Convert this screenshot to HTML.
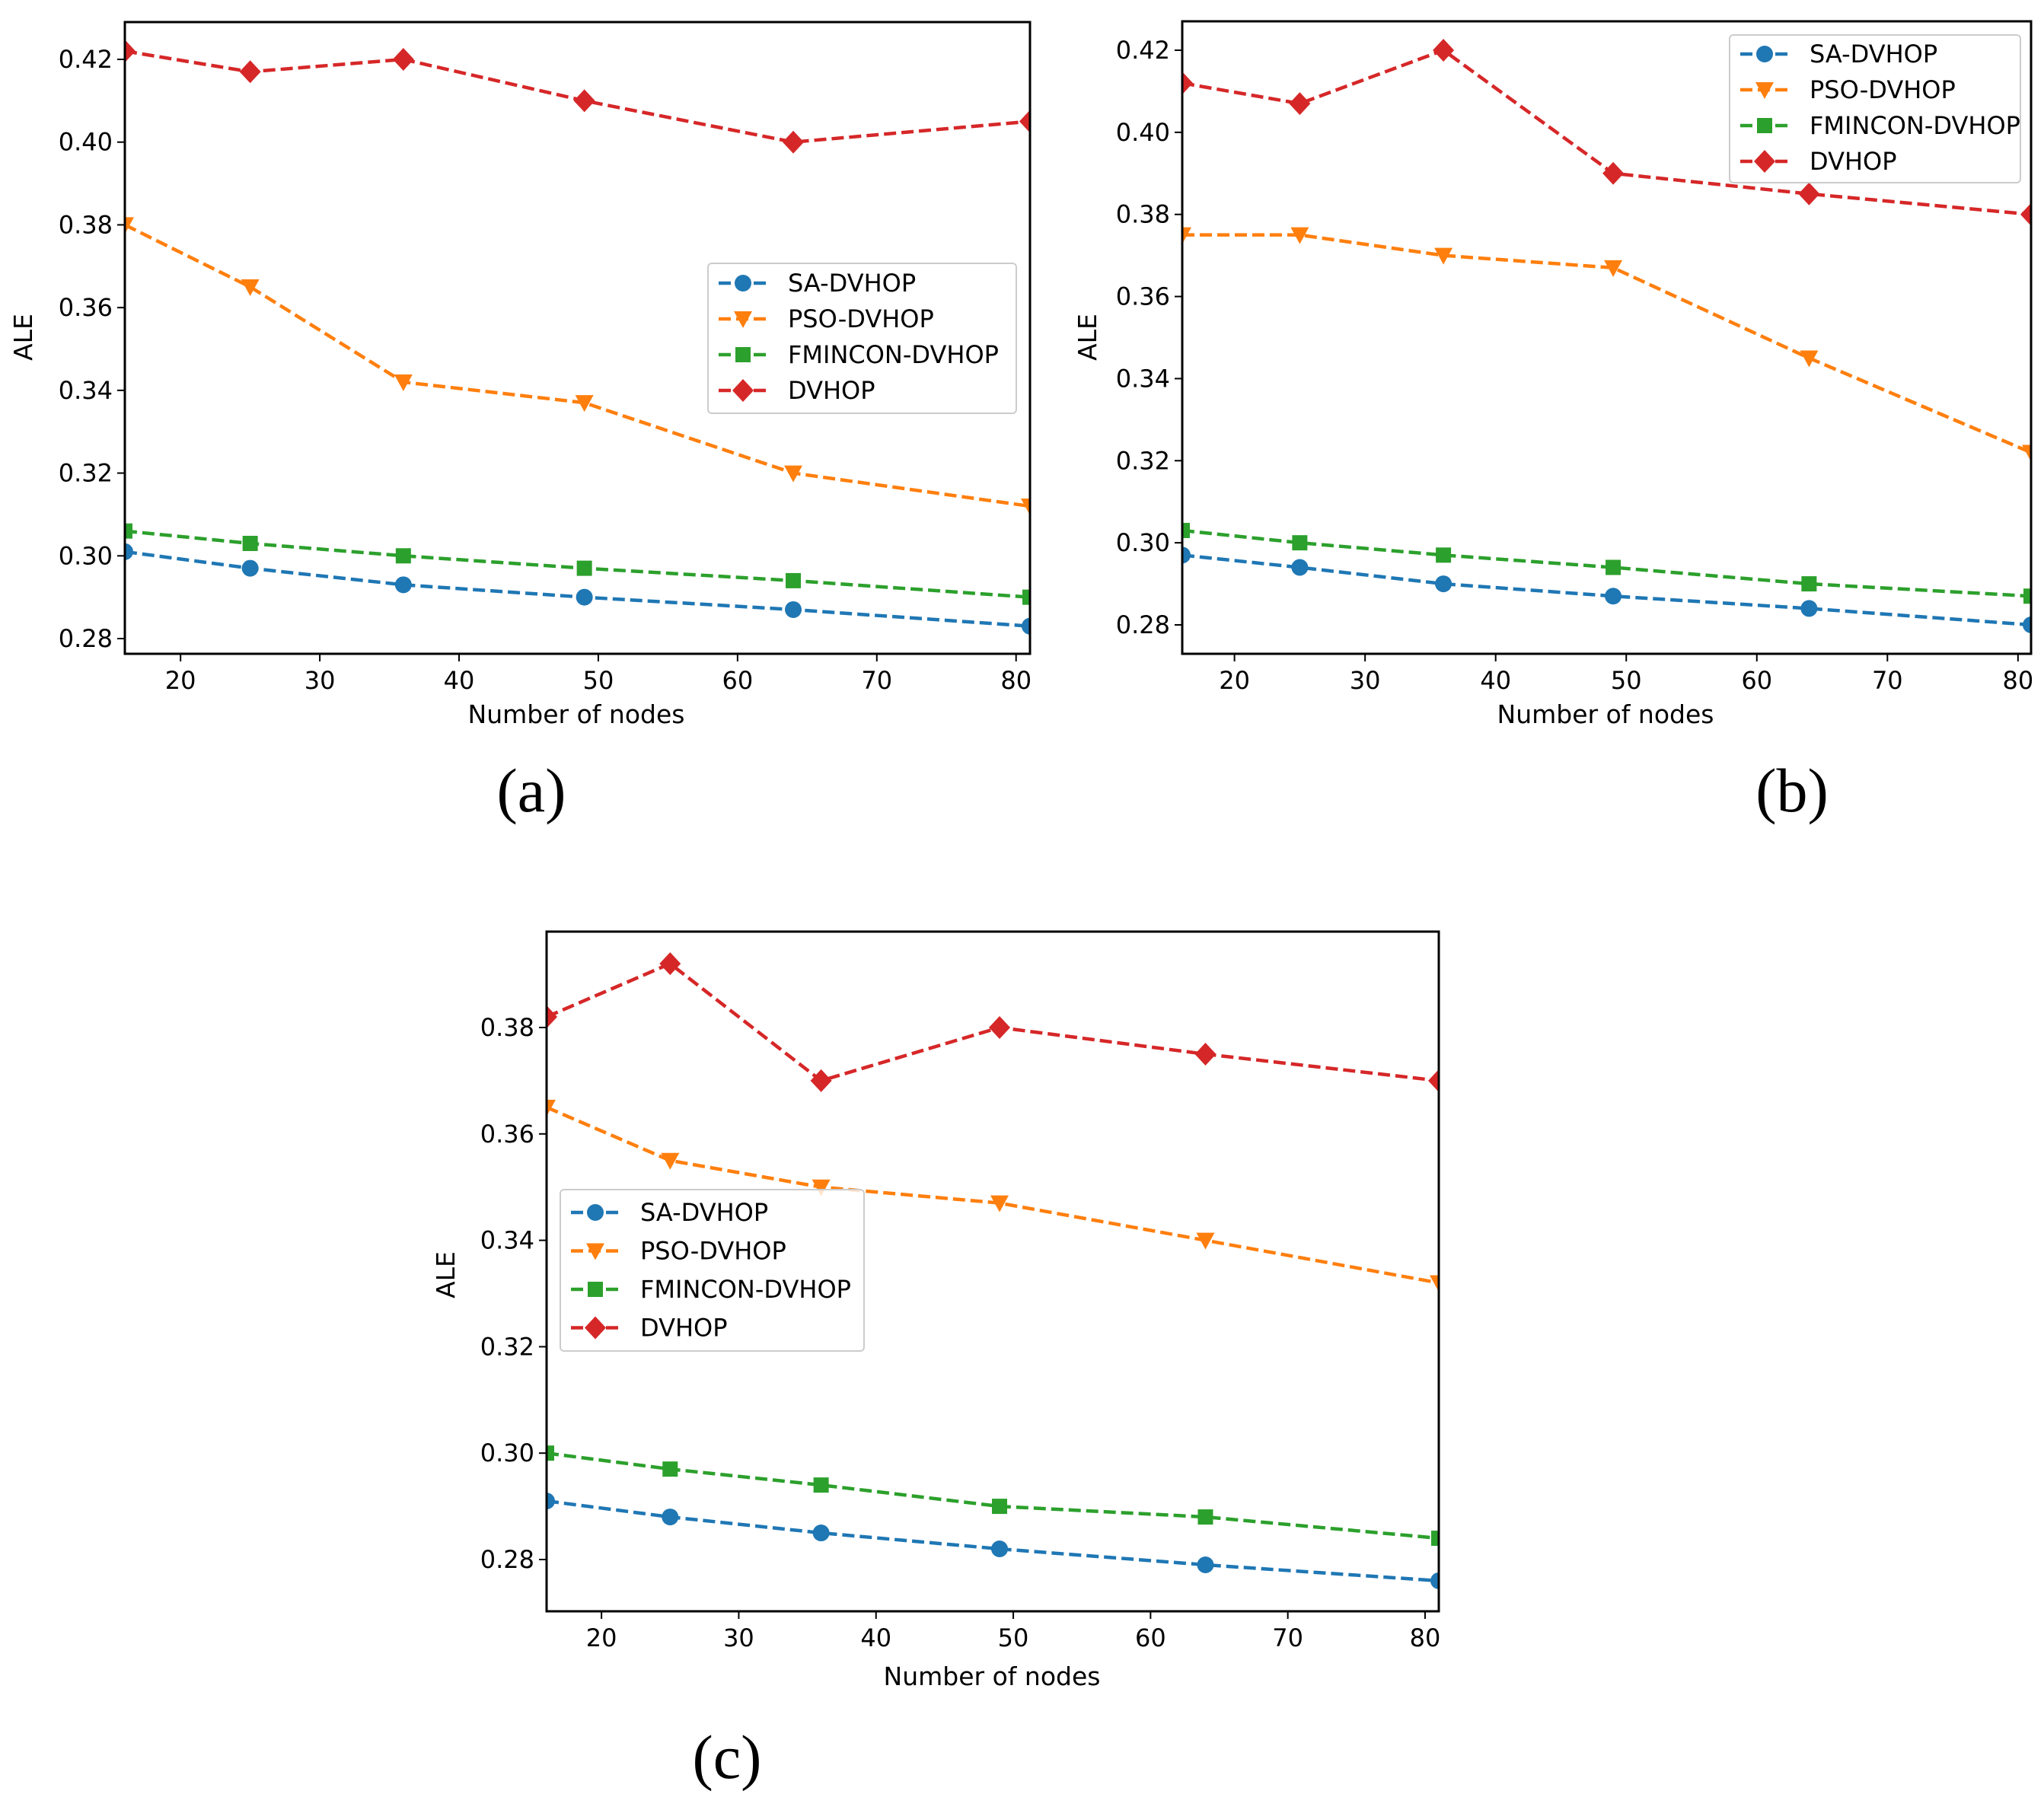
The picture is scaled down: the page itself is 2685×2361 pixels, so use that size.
<!DOCTYPE html>
<html><head><meta charset="utf-8"><style>
html,body{margin:0;padding:0;background:#fff;}
svg{display:block;font-family:"DejaVu Sans","Liberation Sans",sans-serif;}
</style></head><body>
<svg id="fig" width="2685" height="2361" viewBox="0 0 2685 2361" xmlns="http://www.w3.org/2000/svg"></svg>
<script>
const xValues = [16, 25, 36, 49, 64, 81];
const xTicks = [20, 30, 40, 50, 60, 70, 80];
const seriesNames = ["SA-DVHOP", "PSO-DVHOP", "FMINCON-DVHOP", "DVHOP"];
const aSA = [0.301, 0.297, 0.293, 0.290, 0.287, 0.283];
const aPSO = [0.380, 0.365, 0.342, 0.337, 0.320, 0.312];
const aFM = [0.306, 0.303, 0.300, 0.297, 0.294, 0.290];
const aDV = [0.422, 0.417, 0.420, 0.410, 0.400, 0.405];
const bSA = [0.297, 0.294, 0.290, 0.287, 0.284, 0.280];
const bPSO = [0.375, 0.375, 0.370, 0.367, 0.345, 0.322];
const bFM = [0.303, 0.300, 0.297, 0.294, 0.290, 0.287];
const bDV = [0.412, 0.407, 0.420, 0.390, 0.385, 0.380];
const cSA = [0.291, 0.288, 0.285, 0.282, 0.279, 0.276];
const cPSO = [0.365, 0.355, 0.350, 0.347, 0.340, 0.332];
const cFM = [0.300, 0.297, 0.294, 0.290, 0.288, 0.284];
const cDV = [0.382, 0.392, 0.370, 0.380, 0.375, 0.370];
const abYTicks = [0.28, 0.30, 0.32, 0.34, 0.36, 0.38, 0.40, 0.42];
const cYTicks = [0.28, 0.30, 0.32, 0.34, 0.36, 0.38];

const colors = ["#1f77b4", "#ff7f0e", "#2ca02c", "#d62728"];
const markers = ["circle", "tri", "square", "diamond"];
const NS = "http://www.w3.org/2000/svg";
const svg = document.getElementById("fig");
function mk(tag, attrs, parent) {
  const e = document.createElementNS(NS, tag);
  for (const k in attrs) e.setAttribute(k, attrs[k]);
  (parent || svg).appendChild(e);
  return e;
}
function marker(type, x, y, color, parent) {
  let e;
  if (type === "circle") e = mk("circle", {cx: x, cy: y, r: 11, fill: color}, parent);
  else if (type === "square") e = mk("rect", {x: x - 10, y: y - 10, width: 20, height: 20, fill: color}, parent);
  else if (type === "tri") e = mk("polygon", {points: `${x-12},${y-10} ${x+12},${y-10} ${x},${y+12}`, fill: color}, parent);
  else e = mk("polygon", {points: `${x},${y-15} ${x+14},${y} ${x},${y+15} ${x-14},${y}`, fill: color}, parent);
  return e;
}

function panel(id, box, y0, y1, yTicks, series, legend, xlab, ylab, cap) {
  const g = mk("g", {});
  
  
  const xs = v => box.l + (v - 16) / (81 - 16) * (box.r - box.l);
  const ys = v => y0.p + (v - y0.v) / (y1.v - y0.v) * (y1.p - y0.p);
  const clipId = "clip" + id;
  const cp = mk("clipPath", {id: clipId}, g);
  mk("rect", {x: box.l, y: box.t, width: box.r - box.l, height: box.b - box.t}, cp);
  xTicks.forEach(t => {
    const x = xs(t);
    const tl = mk("line", {x1: x, x2: x, y1: box.b, y2: box.b + 10, stroke: "#000", "stroke-width": 2}, g);
    
    
    const tx = mk("text", {x: x, y: box.b + 46, "font-size": 32, "text-anchor": "middle", fill: "#000"}, g);
    tx.textContent = t;
    
    
  });
  yTicks.forEach(t => {
    const y = ys(t);
    const tl = mk("line", {x1: box.l - 10, x2: box.l, y1: y, y2: y, stroke: "#000", "stroke-width": 2}, g);
    
    
    const tx = mk("text", {x: box.l - 16, y: y + 11, "font-size": 32, "text-anchor": "end", fill: "#000"}, g);
    tx.textContent = t.toFixed(2);
    
    
  });
  const sg = mk("g", {"clip-path": `url(#${clipId})`}, g);
  series.forEach((vals, i) => {
    const pts = vals.map((v, j) => `${xs(xValues[j])},${ys(v)}`).join(" ");
    const pl = mk("polyline", {points: pts, fill: "none", stroke: colors[i], "stroke-width": 4.5, "stroke-dasharray": "16,7"}, sg);
    
    
    vals.forEach((v, j) => {
      const m = marker(markers[i], xs(xValues[j]), ys(v), colors[i], sg);
      
      
    });
  });
  const frame = mk("rect", {x: box.l, y: box.t, width: box.r - box.l, height: box.b - box.t, fill: "none", stroke: "#000", "stroke-width": 3}, g);
  
  
  const lg = mk("g", {}, g);
  
  
  mk("rect", {x: legend.x, y: legend.y, width: legend.w, height: legend.h, rx: 5, fill: "#fff", "fill-opacity": 0.8, stroke: "#ccc", "stroke-width": 2}, lg);
  seriesNames.forEach((n, i) => {
    const ey = legend.y + legend.first + i * legend.step;
    const ent = mk("g", {}, lg);
    
    
    mk("line", {x1: legend.x + 14, x2: legend.x + 78, y1: ey, y2: ey, stroke: colors[i], "stroke-width": 4.5, "stroke-dasharray": "16,7"}, ent);
    marker(markers[i], legend.x + 46, ey, colors[i], ent);
    const t = mk("text", {x: legend.x + 105, y: ey + 11, "font-size": 32, fill: "#000"}, ent);
    t.textContent = n;
  });
  const xl = mk("text", {x: xlab.x, y: xlab.y, "font-size": 33, "text-anchor": "middle", fill: "#000"}, g);
  xl.textContent = "Number of nodes";
  
  
  const yl = mk("text", {x: 0, y: 0, "font-size": 33, "text-anchor": "middle", fill: "#000", transform: `translate(${ylab.x},${ylab.y}) rotate(-90)`}, g);
  yl.textContent = "ALE";
  
  
  const c = mk("text", {x: cap.x, y: cap.y, "font-size": 82, "text-anchor": "middle", fill: "#000", "font-family": "Liberation Serif, serif"}, g);
  c.textContent = "(" + id + ")";
  
  
}

panel("a", {l: 164, r: 1353, t: 29, b: 859}, {v: 0.28, p: 839}, {v: 0.42, p: 78}, abYTicks,
  [aSA, aPSO, aFM, aDV], {x: 930, y: 346, w: 405, h: 197, first: 26, step: 47}, {x: 757, y: 950}, {x: 42, y: 443}, {x: 698, y: 1066});
panel("b", {l: 1553, r: 2668, t: 28, b: 859}, {v: 0.28, p: 821}, {v: 0.42, p: 66}, abYTicks,
  [bSA, bPSO, bFM, bDV], {x: 2272, y: 46, w: 382, h: 194, first: 25, step: 47}, {x: 2109, y: 950}, {x: 1440, y: 443}, {x: 2354, y: 1066});
panel("c", {l: 718, r: 1890, t: 1224, b: 2117}, {v: 0.28, p: 2049}, {v: 0.38, p: 1350}, cYTicks,
  [cSA, cPSO, cFM, cDV], {x: 736, y: 1563, w: 399, h: 212, first: 30, step: 50.5}, {x: 1303, y: 2214}, {x: 597, y: 1675}, {x: 955, y: 2336});
</script>
</body></html>
